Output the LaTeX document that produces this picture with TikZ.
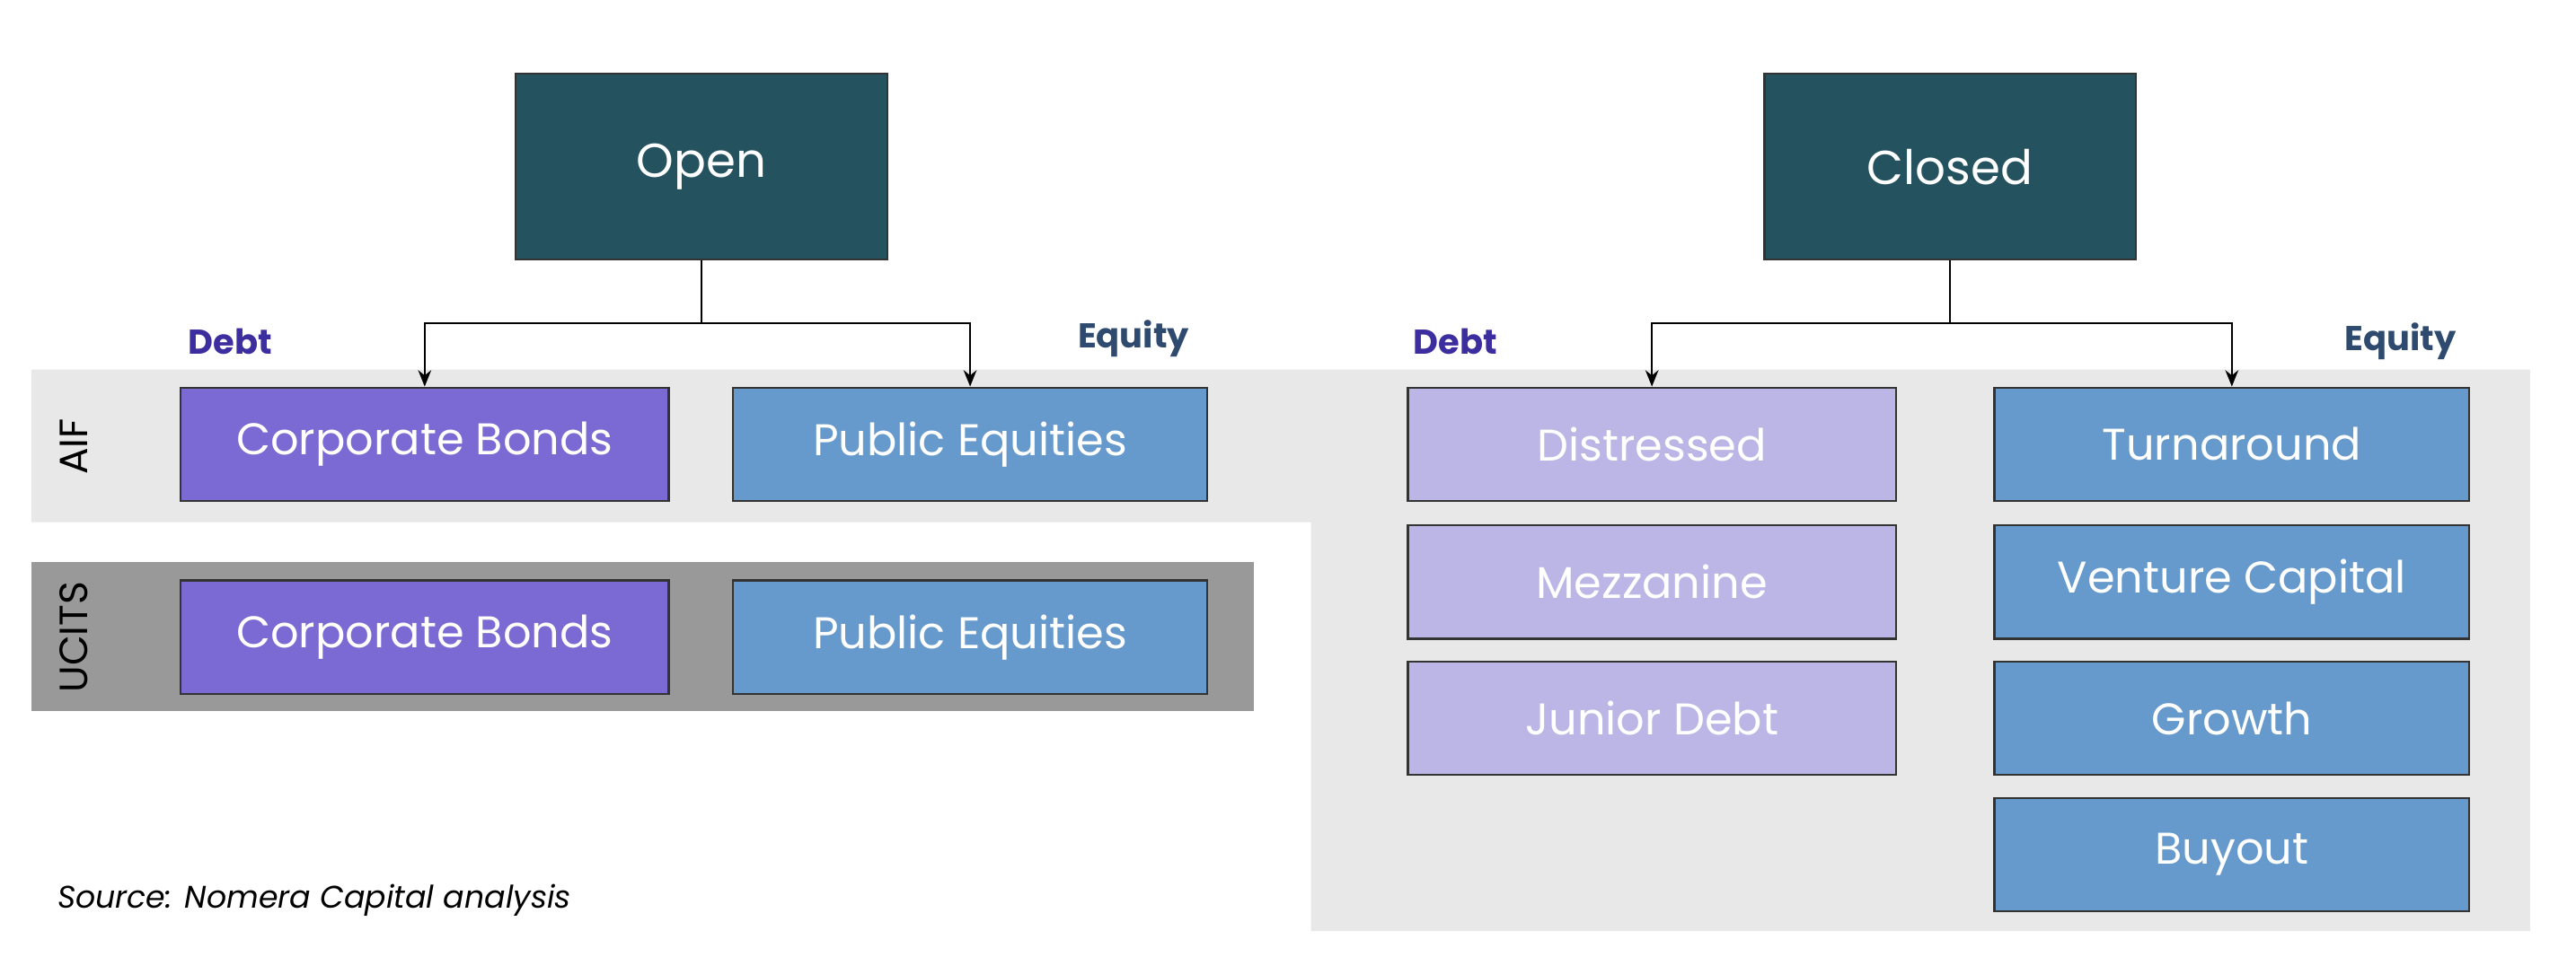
\documentclass[tikz,border=0pt]{standalone}
\usepackage{fontspec}
\setmainfont{Poppins}
\usetikzlibrary{arrows.meta}
\definecolor{teal}{HTML}{24535F}
\definecolor{pur}{HTML}{7B6AD3}
\definecolor{blu}{HTML}{6699CC}
\definecolor{lav}{HTML}{BCB6E6}
\definecolor{lgray}{HTML}{E8E8E8}
\definecolor{dgray}{HTML}{999999}
\definecolor{debtc}{HTML}{3D2EA0}
\definecolor{eqc}{HTML}{2E4A6E}
\tikzset{
 box/.style={draw=black!80,line width=0.6pt,text=white,font=\fontsize{13.5}{16}\selectfont},
 top/.style={box,fill=teal,font=\fontsize{14.5}{17}\selectfont},
 arr/.style={-{Stealth[length=5pt,width=4pt]},line width=0.5pt},
 lab/.style={font=\bfseries\fontsize{10.5}{12}\selectfont},
}
\begin{document}
\begin{tikzpicture}[x=0.5pt,y=-0.5pt]
\useasboundingbox (0,0) rectangle (1568,588);
\fill[lgray] (19,225) -- (1540,225) -- (1540,567) -- (798,567) -- (798,318) -- (19,318) -- cycle;
\fill[dgray] (19,342) rectangle (763,433);
\node[rotate=90,font=\fontsize{12}{14}\selectfont] (aif) at (45,272) {AIF};
\node[rotate=90,font=\fontsize{12}{14}\selectfont] (ucits) at (45,388) {UCITS};
\node[top] (open) at (427,101.5) [minimum width=113pt,minimum height=56.5pt] {Open};
\node[top] (closed) at (1187,101.5) [minimum width=113pt,minimum height=56.5pt] {Closed};
\tikzset{w1/.style={minimum width=148.5pt,minimum height=34.5pt},w2/.style={minimum width=144.5pt,minimum height=34.5pt}}
\node[box,fill=pur,w1] (cb1) at (258.5,270.5) {Corporate Bonds};
\node[box,fill=blu,w2] (pe1) at (590.5,270.5) {Public Equities};
\node[box,fill=pur,w1] (cb2) at (258.5,388) {Corporate Bonds};
\node[box,fill=blu,w2] (pe2) at (590.5,388) {Public Equities};
\node[box,fill=lav,w1] (dis) at (1005.5,270.5) {Distressed};
\node[box,fill=lav,w1] (mez) at (1005.5,354.5) {Mezzanine};
\node[box,fill=lav,w1] (jun) at (1005.5,437.5) {Junior Debt};
\node[box,fill=blu,w2] (tur) at (1358.5,270.5) {Turnaround};
\node[box,fill=blu,w2] (ven) at (1358.5,354.5) {Venture Capital};
\node[box,fill=blu,w2] (gro) at (1358.5,437.5) {Growth};
\node[box,fill=blu,w2] (buy) at (1358.5,520.5) {Buyout};
\coordinate (oj) at (427,197);
\coordinate (cj) at (1187,197);
\draw[line width=0.5pt] (open.south) -- (oj);
\draw[arr] (oj) -| (cb1.north);
\draw[arr] (oj) -| (pe1.north);
\draw[line width=0.5pt] (closed.south) -- (cj);
\draw[arr] (cj) -| (dis.north);
\draw[arr] (cj) -| (tur.north);
\node[lab,text=debtc] (d1) at (140,208) {Debt};
\node[lab,text=eqc] (e1) at (690,206) {Equity};
\node[lab,text=debtc] (d2) at (886,208) {Debt};
\node[lab,text=eqc] (e2) at (1461,208) {Equity};
\node[anchor=west,font=\itshape\fontsize{9.5}{11}\selectfont] (src) at (28,548) {Source: Nomera Capital analysis};
\end{tikzpicture}
\end{document}
